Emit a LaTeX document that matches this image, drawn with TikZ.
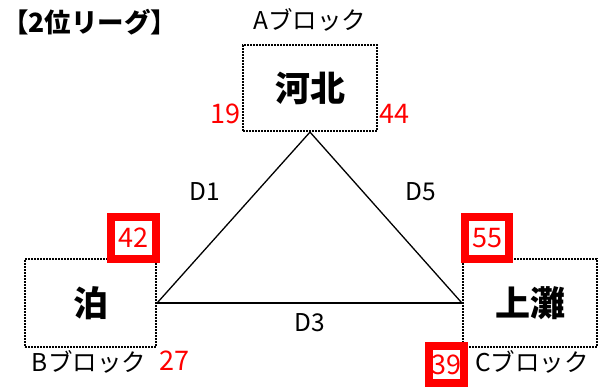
\documentclass[tikz,border=0pt]{standalone}
\usepackage{fontspec}
\setmainfont{Noto Sans CJK JP}
\usepackage{tikz}

\tikzset{
	team/.style={draw=black,line width=2.2pt,dash pattern=on 1.8pt off 1.2pt,fill=white,inner sep=0pt,font=\fontsize{35}{35}\selectfont\bfseries},
	score/.style={draw=red,line width=8pt,fill=white,inner sep=0pt,text=red,font=\fontsize{27}{27}\selectfont},
	pts/.style={text=red,inner sep=0pt,font=\fontsize{27}{27}\selectfont},
	lbl/.style={inner sep=0pt,font=\fontsize{24.5}{24.5}\selectfont}
}

\begin{document}
\begin{tikzpicture}[x=1pt,y=-1pt]
	\useasboundingbox (0,0) rectangle (603,388);

	\node[lbl,font=\fontsize{26.5}{26.5}\selectfont\bfseries,anchor=west] (title) at (2,22) {【2位リーグ】};

	\node[team,minimum width=134pt,minimum height=86pt] (kahoku) at (310,88)    {河北};
	\node[team,minimum width=131pt,minimum height=88pt] (tomari) at (90.5,303)  {泊};
	\node[team,minimum width=134pt,minimum height=88pt] (kaminada) at (530,303) {上灘};

	\node[lbl] (blockA) at (310,20)  {Aブロック};
	\node[lbl] (blockB) at (89,362)  {Bブロック};
	\node[lbl] (blockC) at (532,362) {Cブロック};

	\path[-,line width=1.3pt] (kahoku.south) edge (tomari.east);
	\path[-,line width=1.3pt] (kahoku.south) edge (kaminada.west);
	\path[-,line width=1.3pt] (tomari.east) edge (kaminada.west);

	\node[lbl] (d1) at (205,192) {D1};
	\node[lbl] (d5) at (421,192) {D5};
	\node[lbl] (d3) at (310,323) {D3};

	\node[pts] (a19) at (225,114) {19};
	\node[pts] (a44) at (394,114) {44};
	\node[pts] (b27) at (174,361) {27};

	\node[score,minimum width=45pt,minimum height=42pt] (b42) at (133.5,238) {42};
	\node[score,minimum width=44pt,minimum height=42pt] (c55) at (487,238)   {55};
	\node[score,minimum width=35pt,minimum height=37pt] (c39) at (446.5,364.5) {39};
\end{tikzpicture}
\end{document}
